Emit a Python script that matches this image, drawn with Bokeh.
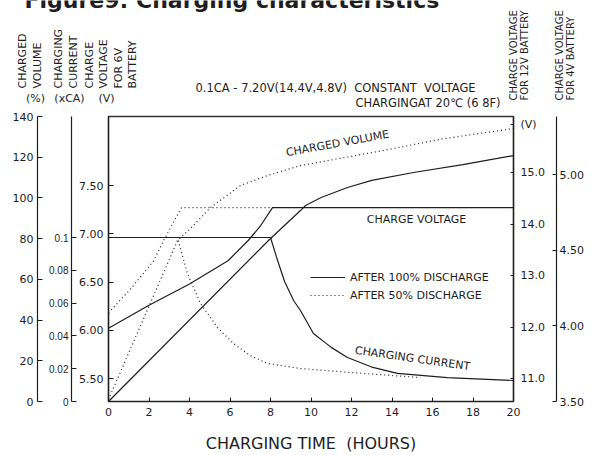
import math
from bokeh.plotting import figure
from bokeh.layouts import column
from bokeh.models import (LinearAxis, Range1d, FixedTicker, Label, Legend,
                          LegendItem, PrintfTickFormatter)
from bokeh.embed import file_html
from bokeh.resources import INLINE

# ---------------- data ----------------
hour_ticks = [0, 2, 4, 6, 8, 10, 12, 14, 16, 18, 20]
v6_ticks = [5.5, 6.0, 6.5, 7.0, 7.5]
cur_ticks = [0, 0.02, 0.04, 0.06, 0.08, 0.1]
cur_labels = ["0", "0.02", "0.04", "0.06", "0.08", "0.1"]
vol_ticks = [0, 20, 40, 60, 80, 100, 120, 140]
v12_ticks = [11, 12, 13, 14, 15]
v4_ticks = [3.5, 4.0, 4.5, 5.0]

# charge voltage (6V battery scale)
volt_full_h = [0, 2, 4, 5.9, 6.9, 7.5, 8.1, 20]
volt_full_v = [6.02, 6.26, 6.48, 6.72, 6.93, 7.08, 7.27, 7.27]
volt_half_h = [0, 1.1, 2.23, 2.72, 3.47, 3.6, 8.1]
volt_half_v = [6.18, 6.43, 6.72, 6.93, 7.22, 7.27, 7.27]

# charging current (xCA)
cur_full_h = [0, 8, 8.35, 8.7, 9.14, 9.48, 10.12, 11.0, 11.8, 13.0, 14.27, 16.74, 20]
cur_full_v = [0.1, 0.1, 0.086, 0.073, 0.0616, 0.0555, 0.0415, 0.033, 0.0268, 0.021, 0.0171, 0.0146, 0.0128]
cur_half_h = [0, 3.4, 3.9, 4.54, 5.38, 6.17, 7.0, 7.85, 9.48, 11.95, 15.4]
cur_half_v = [0.1, 0.1, 0.078, 0.0598, 0.0451, 0.0354, 0.028, 0.0232, 0.0201, 0.0177, 0.0146]

# charged volume (%)
vol_full_h = [0, 7.9, 9.48, 9.73, 10.5, 11.8, 13.0, 15.06, 17.5, 20]
vol_full_v = [0, 79.1, 93.8, 96.3, 100.2, 105.1, 108.6, 112.5, 116.4, 120.8]
vol_half_h = [0, 3.41, 4.05, 5.04, 6.52, 7.85, 9.48, 13.4, 16.5, 20]
vol_half_v = [1, 79.1, 85, 95.3, 106.1, 111, 115.9, 123, 129, 134.1]

# ---------------- layout ----------------
W, H = 593, 455
HEAD = 110                      # height of the header strip
FL, FR, FT, FB = 108, 513, 116, 401
Y0 = 5.5 - 23 / 96.5
Y1 = Y0 + (FB - FT) / 96.5
INK = "#1e1e1e"
FONT = "DejaVu Sans"
NB = "\u00a0"


def X(px):
    return (px - FL) * 20.0 / (FR - FL)


def Y(py):
    return Y0 + (FB - py) * (Y1 - Y0) / (FB - FT)


# ---------- header strip (texts above the frame) ----------
top = figure(width=W, height=HEAD, x_range=Range1d(0, W), y_range=Range1d(HEAD, 0),
             output_backend="svg", toolbar_location=None,
             x_axis_location=None, y_axis_location=None,
             min_border=0, min_border_left=0, min_border_right=0,
             min_border_top=0, min_border_bottom=0)
top.frame_align = False
top.xgrid.visible = False
top.ygrid.visible = False
top.outline_line_color = None
top.background_fill_color = "white"
top.border_fill_color = "white"


def tlab(text, px, py, fs="11px", angle=0.0, align="center", baseline="middle",
         style="normal"):
    top.add_layout(Label(x=px, y=py, text=text, angle=angle, text_align=align,
                         text_baseline=baseline, text_font=FONT, text_font_size=fs,
                         text_font_style=style, text_color=INK))


tlab("Figure9: Charging characteristics", 24, -0.5, fs="22px", align="left",
     baseline="middle", style="bold")
for t, cx in [("CHARGED", 22), ("VOLUME", 37), ("CHARGING", 58), ("CURRENT", 73),
              ("CHARGE", 89), ("VOLTAGE", 103), ("FOR 6V", 118), ("BATTERY", 132)]:
    tlab(t, cx, 88, angle=math.pi / 2, align="left")
for t, cx in [("(%)", 35), ("(xCA)", 69), ("(V)", 106)]:
    tlab(t, cx, 98)
for t, cx in [("CHARGE VOLTAGE", 513), ("FOR 12V BATTERY", 524),
              ("CHARGE VOLTAGE", 559), ("FOR 4V BATTERY", 570)]:
    tlab(t, cx, 100, fs="10px", angle=math.pi / 2, align="left")
tlab(f"0.1CA - 7.20V(14.4V,4.8V) {NB}CONSTANT {NB}VOLTAGE", 195, 87, fs="11.5px",
     align="left")
tlab("CHARGINGAT 20\u2103 (6 8F)", 355, 102, fs="11.5px", align="left")

# ---------- main chart ----------
p = figure(width=W, height=H - HEAD, x_range=Range1d(0, 20), y_range=Range1d(Y0, Y1),
           output_backend="svg", toolbar_location=None,
           min_border_left=FL, min_border_right=W - FR,
           min_border_top=FT - HEAD, min_border_bottom=H - FB)
p.frame_align = False
p.extra_y_ranges = {
    "cur": Range1d(0, (FB - FT) / 1640.0),
    "vol": Range1d(0, 140),
    "v12": Range1d(11 - 23 / 51.5, 11 - 23 / 51.5 + (FB - FT) / 51.5),
    "v4": Range1d(3.5, 3.5 + (FB - FT) / 151.3),
}
p.xgrid.visible = False
p.ygrid.visible = False
p.outline_line_color = "#333333"
p.outline_line_width = 1.5
p.background_fill_color = "white"
p.border_fill_color = "white"


def style(ax, ticks, fs="11px", font=FONT, tin=4, standoff=4, spacer=None):
    ax.ticker = FixedTicker(ticks=ticks)
    ax.major_tick_in = tin
    ax.major_tick_out = 0
    ax.minor_tick_in = 0
    ax.minor_tick_out = 0
    ax.axis_line_color = INK
    ax.axis_line_width = 1.2
    ax.major_tick_line_color = INK
    ax.major_label_text_font = font
    ax.major_label_text_font_size = fs
    ax.major_label_text_color = INK
    ax.major_label_standoff = standoff
    if spacer is not None:
        ax.axis_label = " "
        ax.axis_label_text_font_size = "1px"
        ax.axis_label_standoff = spacer


xa = p.xaxis[0]
style(xa, hour_ticks, tin=4, standoff=6)
xa.axis_label = f"CHARGING TIME {NB}(HOURS)"
xa.axis_label_text_font = FONT
xa.axis_label_text_font_size = "16px"
xa.axis_label_text_font_style = "normal"
xa.axis_label_text_color = INK
xa.axis_label_standoff = 15

ya = p.yaxis[0]
style(ya, v6_ticks, tin=5, standoff=5, spacer=0)
ya.formatter = PrintfTickFormatter(format="%.2f")

ax_c = LinearAxis(y_range_name="cur")
style(ax_c, cur_ticks, fs="10px", font="Liberation Sans", tin=5, standoff=3, spacer=4)
ax_c.major_label_overrides = {t: s for t, s in zip(cur_ticks, cur_labels)}
p.add_layout(ax_c, "left")

ax_v = LinearAxis(y_range_name="vol")
style(ax_v, vol_ticks, tin=5, standoff=4)
p.add_layout(ax_v, "left")

# 12V axis; its unit "(V)" sits at the top of the scale
v12_unit_pos = 11 + (378 - 124) / 51.5
ax12 = LinearAxis(y_range_name="v12")
style(ax12, v12_ticks + [v12_unit_pos], tin=3, standoff=7, spacer=4)
ax12.formatter = PrintfTickFormatter(format="%.1f")
ax12.major_label_overrides = {v12_unit_pos: "(V)"}
p.add_layout(ax12, "right")

ax4 = LinearAxis(y_range_name="v4")
style(ax4, v4_ticks, tin=4, standoff=3)
ax4.formatter = PrintfTickFormatter(format="%.2f")
p.add_layout(ax4, "right")

LW = 1.2
DOT = "1 3"
r_vf = p.line(vol_full_h, vol_full_v, y_range_name="vol", line_color=INK, line_width=LW)
r_vh = p.line(vol_half_h, vol_half_v, y_range_name="vol", line_color=INK, line_width=LW, line_dash=DOT)
p.line(volt_full_h, volt_full_v, line_color=INK, line_width=LW)
p.line(volt_half_h, volt_half_v, line_color=INK, line_width=LW, line_dash=DOT)
p.line(cur_full_h, cur_full_v, y_range_name="cur", line_color=INK, line_width=LW)
p.line(cur_half_h, cur_half_v, y_range_name="cur", line_color=INK, line_width=LW, line_dash=DOT)

legend = Legend(items=[LegendItem(label="AFTER 100% DISCHARGE", renderers=[r_vf]),
                       LegendItem(label="AFTER 50% DISCHARGE", renderers=[r_vh])],
                location=(310 - FL, FB - 303))
legend.border_line_color = None
legend.background_fill_alpha = 0
legend.padding = 0
legend.margin = 0
legend.spacing = 2
legend.glyph_width = 35
legend.glyph_height = 16
legend.label_height = 16
legend.label_standoff = 5
legend.label_text_font = FONT
legend.label_text_font_size = "11px"
legend.label_text_color = INK
p.add_layout(legend, "center")


def lab(text, px, py, angle=0.0):
    p.add_layout(Label(x=X(px), y=Y(py), text=text, angle=angle, text_align="center",
                       text_baseline="middle", text_font=FONT, text_font_size="11px",
                       text_color=INK))


lab("CHARGED VOLUME", 337, 143, angle=math.radians(10.3))
lab("CHARGE VOLTAGE", 416, 219)
lab("CHARGING CURRENT", 412, 358, angle=-math.radians(8.1))

layout = column(top, p, spacing=0)
open("out.html", "w").write(file_html(layout, INLINE))
